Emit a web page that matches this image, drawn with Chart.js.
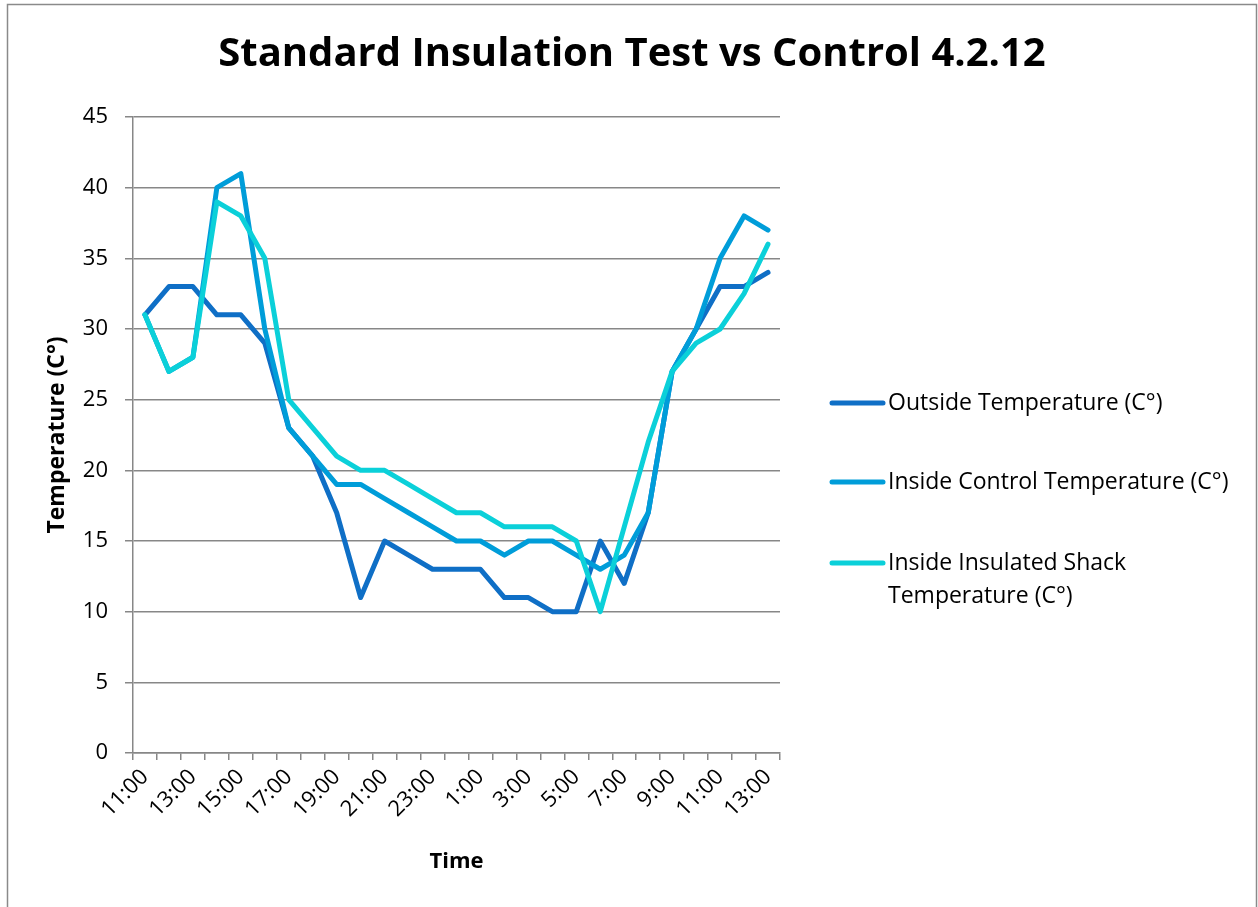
<!DOCTYPE html>
<html>
<head>
<meta charset="utf-8">
<script src="https://cdn.jsdelivr.net/npm/chart.js@4.4.1/dist/chart.umd.min.js"></script>
<style>
  html, body { margin: 0; padding: 0; background: #fff; }
  #wrap { position: relative; width: 1258px; height: 907px; }
  canvas { display: block; }
</style>
</head>
<body>
<div id="wrap"><canvas id="c" width="1258" height="907"></canvas></div>
<script>
const chartTitle = 'Standard Insulation Test vs Control 4.2.12';
const timeLabels = ['11:00','12:00','13:00','14:00','15:00','16:00','17:00','18:00','19:00','20:00','21:00','22:00','23:00','0:00','1:00','2:00','3:00','4:00','5:00','6:00','7:00','8:00','9:00','10:00','11:00','12:00','13:00'];
const outsideTemp   = [31,33,33,31,31,29,23,21,17,11,15,14,13,13,13,11,11,10,10,15,12,17,27,30,33,33,34];
const controlTemp   = [31,27,28,40,41,30,23,21,19,19,18,17,16,15,15,14,15,15,14,13,14,17,27,30,35,38,37];
const insulatedTemp = [31,27,28,39,38,35,25,23,21,20,20,19,18,17,17,16,16,16,15,10,16,22,27,29,30,32.5,36];
const seriesNames = ['Outside Temperature (C°)', 'Inside Control Temperature (C°)', 'Inside Insulated Shack Temperature (C°)'];
const yTicks = [0,5,10,15,20,25,30,35,40,45];

const FONT = "'Open Sans', 'Noto Sans', sans-serif";
const GRID = '#878787';

const frame = {
  id: 'frame',
  beforeDraw(chart) {
    const ctx = chart.ctx;
    ctx.save();
    ctx.fillStyle = '#fff';
    ctx.fillRect(0, 0, chart.width, chart.height);
    ctx.strokeStyle = '#8a8a8a';
    ctx.lineWidth = 1.5;
    ctx.strokeRect(7.5, 4.5, 1249, 930);
    ctx.restore();
  }
};

const titleAndLegend = {
  id: 'titleAndLegend',
  afterDraw(chart) {
    const ctx = chart.ctx;
    ctx.save();
    // title
    ctx.font = 'bold 40px ' + FONT;
    ctx.fillStyle = '#000';
    ctx.textAlign = 'center';
    ctx.textBaseline = 'middle';
    ctx.fillText(chartTitle, 632, 55);
    // legend
    const ys = [403, 482, 563];
    ctx.font = '23px ' + FONT;
    ctx.textAlign = 'left';
    chart.data.datasets.forEach((ds, i) => {
      const y = ys[i];
      ctx.strokeStyle = ds.borderColor;
      ctx.lineWidth = 5;
      ctx.lineCap = 'round';
      ctx.beginPath(); ctx.moveTo(832, y); ctx.lineTo(883, y); ctx.stroke();
      const words = ds.label.split(' ');
      const lines = []; let cur = '';
      words.forEach(w => {
        const t = cur ? cur + ' ' + w : w;
        if (ctx.measureText(t).width > 360 && cur) { lines.push(cur); cur = w; } else cur = t;
      });
      lines.push(cur);
      ctx.fillStyle = '#000';
      lines.forEach((t, j) => ctx.fillText(t, 888, y + j * 33));
    });
    ctx.restore();
  }
};

const chart = new Chart(document.getElementById('c'), {
  type: 'line',
  data: {
    labels: timeLabels,
    datasets: [
      { label: seriesNames[0], data: outsideTemp, borderColor: '#0F6FC6', order: 2 },
      { label: seriesNames[1], data: controlTemp, borderColor: '#009DD9', order: 1 },
      { label: seriesNames[2], data: insulatedTemp, borderColor: '#0BD0D9', order: 0 }
    ]
  },
  options: {
    responsive: false,
    animation: false,
    devicePixelRatio: 1,
    layout: { padding: { left: 8, right: 478, top: 117, bottom: 0 } },
    elements: {
      line: { borderWidth: 5, tension: 0, borderJoinStyle: 'round', borderCapStyle: 'round', fill: false },
      point: { radius: 0, hoverRadius: 0 }
    },
    plugins: {
      legend: { display: false },
      tooltip: { enabled: false },
      title: { display: false }
    },
    scales: {
      x: {
        type: 'category',
        offset: true,
        grid: { display: true, drawOnChartArea: false, offset: true, tickLength: 7, color: GRID, lineWidth: 1.5 },
        border: { color: GRID, width: 1.5 },
        ticks: {
          autoSkip: false, maxRotation: 45, minRotation: 45, padding: 4,
          color: '#000', font: { family: FONT, size: 22 },
          callback: function(v, i) { return i % 2 === 0 ? this.getLabelForValue(v) : ''; }
        },
        title: { display: true, text: 'Time', color: '#000', font: { family: FONT, size: 22, weight: 'bold', lineHeight: 1.2 }, padding: { top: 0, bottom: 32 } },
        afterFit(s) { s.height = 154; }
      },
      y: {
        min: 0, max: 45,
        afterBuildTicks(s) { s.ticks = yTicks.map(v => ({ value: v })); },
        grid: { color: GRID, lineWidth: 1.5, tickLength: 8 },
        border: { color: GRID, width: 1.5 },
        ticks: { color: '#000', font: { family: FONT, size: 22 }, padding: 17 },
        title: { display: true, text: 'Temperature (C°)', color: '#000', font: { family: FONT, size: 23, weight: 'bold', lineHeight: 1.2 }, padding: { top: 36, bottom: 0 } },
        afterFit(s) { s.width = 125; }
      }
    }
  },
  plugins: [frame, titleAndLegend]
});
</script>
</body>
</html>
